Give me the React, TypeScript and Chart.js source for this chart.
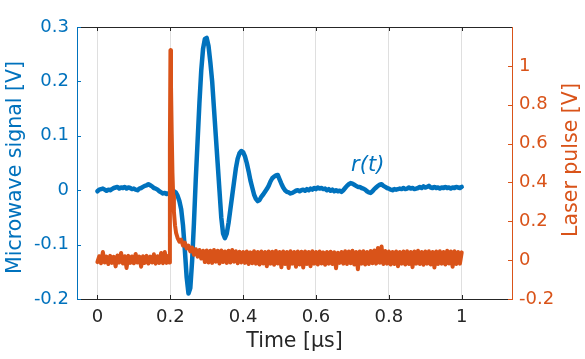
import React, { useEffect, useRef } from "react";
import { Chart, registerables } from "chart.js";

Chart.register(...registerables);

const BLUE = "#0072BD";
const ORANGE = "#D95319";
const DARK = "#262626";
const GRID = "#dfdfdf";
const FONT = "'DejaVu Sans', sans-serif";

const timeTicks = [0, 0.2, 0.4, 0.6, 0.8, 1];
const microwaveTicks = [-0.2, -0.1, 0, 0.1, 0.2, 0.3];
const laserTicks = [-0.2, 0, 0.2, 0.4, 0.6, 0.8, 1];

const xLabel = "Time [μs]";
const leftLabel = "Microwave signal [V]";
const rightLabel = "Laser pulse [V]";
const curveLabel = "r(t)";

const microwaveTime = [
  0.000, 0.005, 0.010, 0.015, 0.020, 0.025, 0.030, 0.035, 0.040, 0.045,
  0.050, 0.055, 0.060, 0.065, 0.070, 0.075, 0.080, 0.085, 0.090, 0.095,
  0.100, 0.105, 0.110, 0.115, 0.120, 0.125, 0.130, 0.135, 0.140, 0.145,
  0.150, 0.155, 0.160, 0.165, 0.170, 0.175, 0.180, 0.185, 0.190, 0.195,
  0.200, 0.205, 0.210, 0.215, 0.220, 0.225, 0.230, 0.235, 0.240, 0.245,
  0.250, 0.255, 0.260, 0.265, 0.270, 0.275, 0.280, 0.285, 0.290, 0.295,
  0.300, 0.305, 0.310, 0.315, 0.320, 0.325, 0.330, 0.335, 0.340, 0.345,
  0.350, 0.355, 0.360, 0.365, 0.370, 0.375, 0.380, 0.385, 0.390, 0.395,
  0.400, 0.405, 0.410, 0.415, 0.420, 0.425, 0.430, 0.435, 0.440, 0.445,
  0.450, 0.455, 0.460, 0.465, 0.470, 0.475, 0.480, 0.485, 0.490, 0.495,
  0.500, 0.505, 0.510, 0.515, 0.520, 0.525, 0.530, 0.535, 0.540, 0.545,
  0.550, 0.555, 0.560, 0.565, 0.570, 0.575, 0.580, 0.585, 0.590, 0.595,
  0.600, 0.605, 0.610, 0.615, 0.620, 0.625, 0.630, 0.635, 0.640, 0.645,
  0.650, 0.655, 0.660, 0.665, 0.670, 0.675, 0.680, 0.685, 0.690, 0.695,
  0.700, 0.705, 0.710, 0.715, 0.720, 0.725, 0.730, 0.735, 0.740, 0.745,
  0.750, 0.755, 0.760, 0.765, 0.770, 0.775, 0.780, 0.785, 0.790, 0.795,
  0.800, 0.805, 0.810, 0.815, 0.820, 0.825, 0.830, 0.835, 0.840, 0.845,
  0.850, 0.855, 0.860, 0.865, 0.870, 0.875, 0.880, 0.885, 0.890, 0.895,
  0.900, 0.905, 0.910, 0.915, 0.920, 0.925, 0.930, 0.935, 0.940, 0.945,
  0.950, 0.955, 0.960, 0.965, 0.970, 0.975, 0.980, 0.985, 0.990, 0.995,
  1.000,
];

const microwaveSignal = [
  -0.002, 0.001, 0.002, 0.003, 0.001, -0.001, 0.001, 0.000, 0.002, 0.004,
  0.005, 0.006, 0.003, 0.005, 0.004, 0.006, 0.003, 0.005, 0.004, 0.002,
  0.003, 0.001, 0.000, 0.003, 0.004, 0.006, 0.008, 0.009, 0.011, 0.009,
  0.007, 0.004, 0.003, 0.001, -0.002, -0.004, -0.006, -0.005, -0.007, -0.006,
  -0.005, -0.003, -0.002, -0.004, -0.010, -0.020, -0.035, -0.065, -0.110, -0.160,
  -0.190, -0.180, -0.130, -0.060, 0.020, 0.090, 0.160, 0.220, 0.260, 0.278,
  0.280, 0.265, 0.235, 0.200, 0.150, 0.100, 0.050, 0.000, -0.050, -0.080,
  -0.088, -0.080, -0.060, -0.035, -0.010, 0.015, 0.040, 0.058, 0.068, 0.072,
  0.070, 0.062, 0.050, 0.035, 0.018, 0.005, -0.008, -0.016, -0.020, -0.018,
  -0.012, -0.008, -0.003, 0.002, 0.008, 0.016, 0.022, 0.025, 0.027, 0.028,
  0.020, 0.012, 0.005, 0.000, -0.003, -0.004, -0.006, -0.005, -0.003, -0.001,
  0.000, -0.002, 0.000, 0.001, -0.001, 0.002, 0.000, 0.003, 0.001, 0.004,
  0.002, 0.005, 0.003, 0.004, 0.002, 0.003, 0.000, 0.002, -0.001, 0.001,
  -0.002, 0.000, -0.002, -0.001, -0.003, 0.000, 0.004, 0.008, 0.011, 0.013,
  0.012, 0.010, 0.008, 0.006, 0.006, 0.004, 0.003, 0.001, -0.002, -0.004,
  -0.005, -0.002, 0.002, 0.005, 0.008, 0.010, 0.011, 0.008, 0.006, 0.004,
  0.003, 0.001, 0.000, 0.002, 0.001, 0.002, 0.003, 0.002, 0.004, 0.002,
  0.003, 0.005, 0.003, 0.004, 0.002, 0.003, 0.004, 0.006, 0.004, 0.007,
  0.005, 0.006, 0.008, 0.005, 0.004, 0.006, 0.004, 0.005, 0.003, 0.005,
  0.004, 0.006, 0.004, 0.005, 0.003, 0.005, 0.004, 0.006, 0.005, 0.004,
  0.006,
];

const laserTime = [
  0.000, 0.005, 0.010, 0.015, 0.020, 0.025, 0.030, 0.035, 0.040, 0.045,
  0.050, 0.055, 0.060, 0.065, 0.070, 0.075, 0.080, 0.085, 0.090, 0.095,
  0.100, 0.105, 0.110, 0.115, 0.120, 0.125, 0.130, 0.135, 0.140, 0.145,
  0.150, 0.155, 0.160, 0.165, 0.170, 0.175, 0.180, 0.185, 0.190, 0.195,
  0.197, 0.199, 0.2005, 0.202, 0.204, 0.206, 0.208, 0.210, 0.213, 0.216,
  0.220, 0.225, 0.230, 0.235, 0.240, 0.245, 0.250, 0.255, 0.260, 0.265,
  0.270, 0.275, 0.280, 0.285,
  0.290, 0.295, 0.300, 0.305, 0.310, 0.315, 0.320, 0.325, 0.330, 0.335,
  0.340, 0.345, 0.350, 0.355, 0.360, 0.365, 0.370, 0.375, 0.380, 0.385,
  0.390, 0.395,
  0.400, 0.405, 0.410, 0.415, 0.420, 0.425, 0.430, 0.435, 0.440, 0.445,
  0.450, 0.455, 0.460, 0.465, 0.470, 0.475, 0.480, 0.485, 0.490, 0.495,
  0.500, 0.505, 0.510, 0.515, 0.520, 0.525, 0.530, 0.535, 0.540, 0.545,
  0.550, 0.555, 0.560, 0.565, 0.570, 0.575, 0.580, 0.585, 0.590, 0.595,
  0.600, 0.605, 0.610, 0.615, 0.620, 0.625, 0.630, 0.635, 0.640, 0.645,
  0.650, 0.655, 0.660, 0.665, 0.670, 0.675, 0.680, 0.685, 0.690, 0.695,
  0.700, 0.705, 0.710, 0.715, 0.720, 0.725, 0.730, 0.735, 0.740, 0.745,
  0.750, 0.755, 0.760, 0.765, 0.770, 0.775, 0.780, 0.785, 0.790, 0.795,
  0.800, 0.805, 0.810, 0.815, 0.820, 0.825, 0.830, 0.835, 0.840, 0.845,
  0.850, 0.855, 0.860, 0.865, 0.870, 0.875, 0.880, 0.885, 0.890, 0.895,
  0.900, 0.905, 0.910, 0.915, 0.920, 0.925, 0.930, 0.935, 0.940, 0.945,
  0.950, 0.955, 0.960, 0.965, 0.970, 0.975, 0.980, 0.985, 0.990, 0.995,
  1.000,
];

const laserPulse = [
  -0.010, 0.020, -0.016, 0.042, -0.012, 0.018, -0.020, 0.022, -0.014, 0.017,
  -0.032, 0.024, -0.012, 0.037, -0.017, 0.020, -0.040, 0.022, -0.014, 0.019,
  -0.016, 0.032, -0.012, 0.018, -0.034, 0.020, -0.014, 0.022, -0.017, 0.018,
  -0.012, 0.030, -0.018, 0.020, -0.014, 0.037, -0.016, 0.042, -0.014, 0.022,
  -0.012, 0.600, 1.080, 0.900, 0.650, 0.450, 0.330, 0.250, 0.180, 0.140,
  0.115, 0.095, 0.105, 0.075, 0.090, 0.060, 0.075, 0.045, 0.065, 0.028,
  0.056, 0.018, 0.052, 0.008,
  0.048, -0.010, 0.050, -0.012, 0.048, -0.014, 0.052, -0.008, 0.048, -0.017,
  0.050, -0.010, 0.045, -0.014, 0.048, -0.012, 0.052, -0.008, 0.046, -0.016,
  0.043, -0.012,
  0.042, -0.014, 0.044, -0.020, 0.040, -0.016, 0.046, -0.018, 0.042, -0.022,
  0.044, -0.017, 0.042, -0.032, 0.045, -0.018, 0.043, -0.024, 0.047, -0.017,
  0.042, -0.037, 0.044, -0.020, 0.042, -0.040, 0.046, -0.018, 0.042, -0.034,
  0.044, -0.022, 0.043, -0.038, 0.045, -0.020, 0.042, -0.032, 0.046, -0.018,
  0.042, -0.022, 0.044, -0.017, 0.040, -0.024, 0.042, -0.018, 0.043, -0.020,
  0.041, -0.042, 0.038, -0.014, 0.042, -0.018, 0.046, -0.020, 0.044, -0.016,
  0.048, -0.022, 0.042, -0.047, 0.044, -0.018, 0.046, -0.022, 0.042, -0.020,
  0.047, -0.016, 0.050, -0.018, 0.062, -0.014, 0.070, -0.020, 0.047, -0.018,
  0.044, -0.022, 0.042, -0.020, 0.045, -0.032, 0.042, -0.018, 0.044, -0.022,
  0.046, -0.020, 0.042, -0.036, 0.044, -0.018, 0.048, -0.020, 0.042, -0.024,
  0.044, -0.018, 0.046, -0.022, 0.042, -0.038, 0.044, -0.020, 0.046, -0.018,
  0.042, -0.022, 0.048, -0.017, 0.044, -0.034, 0.046, -0.020, 0.042, -0.018,
  0.040,
];

const fmt = (v: number | string) => String(parseFloat(Number(v).toFixed(2)));

const decorPlugin = {
  id: "decor",
  afterDatasetsDraw(chart: any) {
    const { ctx, chartArea, scales } = chart;
    const { left, right, top, bottom } = chartArea;
    const tl = 4;
    ctx.save();
    ctx.lineWidth = 1;
    ctx.strokeStyle = DARK;
    ctx.beginPath();
    ctx.moveTo(left, top + 0.5);
    ctx.lineTo(right, top + 0.5);
    ctx.stroke();
    for (const v of timeTicks) {
      const x = Math.round(scales.x.getPixelForValue(v)) + 0.5;
      ctx.beginPath();
      ctx.moveTo(x, bottom);
      ctx.lineTo(x, bottom - tl);
      ctx.moveTo(x, top);
      ctx.lineTo(x, top + tl);
      ctx.stroke();
    }
    ctx.strokeStyle = BLUE;
    for (const v of microwaveTicks) {
      const y = Math.round(scales.y.getPixelForValue(v)) + 0.5;
      ctx.beginPath();
      ctx.moveTo(left, y);
      ctx.lineTo(left + tl, y);
      ctx.stroke();
    }
    ctx.strokeStyle = ORANGE;
    for (const v of laserTicks) {
      const y = Math.round(scales.y1.getPixelForValue(v)) + 0.5;
      ctx.beginPath();
      ctx.moveTo(right, y);
      ctx.lineTo(right - tl, y);
      ctx.stroke();
    }
    ctx.restore();
  },
  afterDraw(chart: any) {
    const { ctx, chartArea, scales } = chart;
    ctx.save();
    ctx.textAlign = "center";
    ctx.textBaseline = "middle";
    ctx.font = `20.5px ${FONT}`;
    ctx.fillStyle = DARK;
    ctx.fillText(xLabel, (chartArea.left + chartArea.right) / 2, 342);
    ctx.fillStyle = BLUE;
    ctx.save();
    ctx.translate(16, 167.5);
    ctx.rotate(-Math.PI / 2);
    ctx.fillText(leftLabel, 0, 0);
    ctx.restore();
    ctx.fillStyle = ORANGE;
    ctx.save();
    ctx.translate(572, 160);
    ctx.rotate(-Math.PI / 2);
    ctx.fillText(rightLabel, 0, 0);
    ctx.restore();
    ctx.fillStyle = BLUE;
    ctx.font = `italic 21px ${FONT}`;
    ctx.fillText(curveLabel, scales.x.getPixelForValue(0.742), scales.y.getPixelForValue(0.045));
    ctx.restore();
  },
};

export default function App() {
  const ref = useRef<HTMLCanvasElement | null>(null);
  useEffect(() => {
    document.body.style.margin = "0";
    const canvas = ref.current;
    if (!canvas) return;
    const tickFont = { family: FONT, size: 18 };
    const chart = new Chart(canvas, {
      type: "line",
      data: {
        datasets: [
          {
            label: "r(t)",
            data: microwaveTime.map((t, i) => ({ x: t, y: microwaveSignal[i] })),
            borderColor: BLUE,
            backgroundColor: BLUE,
            borderWidth: 4.5,
            pointRadius: 0,
            tension: 0,
            borderJoinStyle: "round",
            borderCapStyle: "round",
            yAxisID: "y",
            order: 2,
          },
          {
            label: "Laser pulse",
            data: laserTime.map((t, i) => ({ x: t, y: laserPulse[i] })),
            borderColor: ORANGE,
            backgroundColor: ORANGE,
            borderWidth: 4,
            pointRadius: 0,
            tension: 0,
            borderJoinStyle: "round",
            borderCapStyle: "round",
            yAxisID: "y1",
            order: 1,
          },
        ],
      },
      options: {
        responsive: false,
        animation: false,
        devicePixelRatio: 1,
        layout: { padding: { top: 27, left: 0, right: 0, bottom: 0 } },
        plugins: { legend: { display: false }, tooltip: { enabled: false } },
        scales: {
          x: {
            type: "linear",
            min: -0.056,
            max: 1.138,
            afterBuildTicks: (s: any) => {
              s.ticks = timeTicks.map((value) => ({ value }));
            },
            afterFit: (s: any) => {
              s.height = 60;
            },
            grid: { color: GRID, lineWidth: 1, drawTicks: false },
            border: { color: DARK, width: 1 },
            ticks: {
              color: DARK,
              font: tickFont,
              padding: 8,
              maxRotation: 0,
              autoSkip: false,
              callback: (v: any) => fmt(v),
            },
          },
          y: {
            type: "linear",
            position: "left",
            min: -0.2,
            max: 0.3,
            afterBuildTicks: (s: any) => {
              s.ticks = microwaveTicks.map((value) => ({ value }));
            },
            afterFit: (s: any) => {
              s.width = 77;
            },
            grid: { display: true, drawOnChartArea: false, drawTicks: false },
            border: { color: BLUE, width: 1 },
            ticks: { color: BLUE, font: tickFont, padding: 8, autoSkip: false, callback: (v: any) => fmt(v) },
          },
          y1: {
            type: "linear",
            position: "right",
            min: -0.2,
            max: 1.2,
            afterBuildTicks: (s: any) => {
              s.ticks = laserTicks.map((value) => ({ value }));
            },
            afterFit: (s: any) => {
              s.width = 73;
            },
            grid: { display: true, drawOnChartArea: false, drawTicks: false },
            border: { color: ORANGE, width: 1 },
            ticks: { color: ORANGE, font: tickFont, padding: 7, autoSkip: false, callback: (v: any) => fmt(v) },
          },
        },
      } as any,
      plugins: [decorPlugin],
    });
    return () => chart.destroy();
  }, []);
  return (
    <div style={{ position: "absolute", left: 0, top: 0, width: 585, height: 359, background: "#fff" }}>
      <canvas ref={ref} width={585} height={359} style={{ display: "block", width: 585, height: 359 }} />
    </div>
  );
}
